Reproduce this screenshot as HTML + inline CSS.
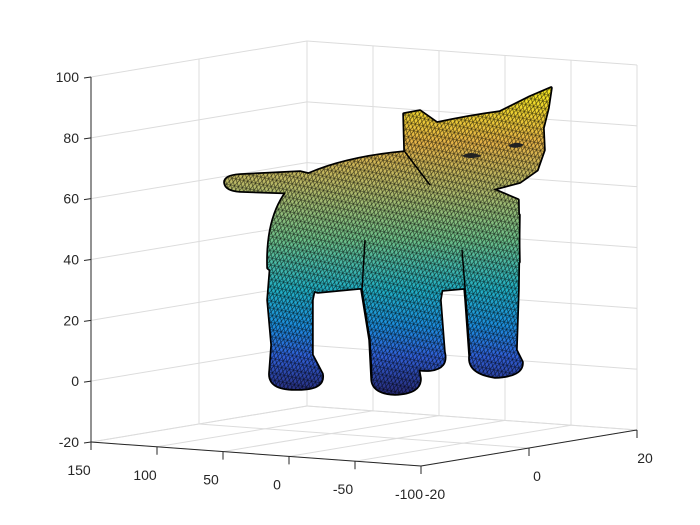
<!DOCTYPE html>
<html><head><meta charset="utf-8"><style>
html,body{margin:0;padding:0;background:#fff;}
svg{display:block;font-family:"Liberation Sans",Arial,sans-serif;}
</style></head><body>
<svg id="chart" width="700" height="525" viewBox="0 0 700 525">
<defs>
<linearGradient id="parula" gradientUnits="userSpaceOnUse" x1="0" y1="88" x2="0" y2="393">
<stop offset="0" stop-color="#f6ea20"/>
<stop offset="0.18" stop-color="#e6b448"/>
<stop offset="0.33" stop-color="#b4ba6a"/>
<stop offset="0.5" stop-color="#6cc08a"/>
<stop offset="0.66" stop-color="#22b0c4"/>
<stop offset="0.78" stop-color="#1c8ede"/>
<stop offset="0.88" stop-color="#3060d8"/>
<stop offset="1" stop-color="#282c7a"/>
</linearGradient>
<pattern id="mesh" width="8" height="7" patternUnits="userSpaceOnUse" patternTransform="rotate(12)">
<path d="M0,0 L8,0 M0,7 L8,7 M0,0 L4,7 L8,0 M0,7 L4,0 L8,7" stroke="#000" stroke-width="0.6" fill="none" opacity="0.75"/>
</pattern>
<mask id="catMask" maskUnits="userSpaceOnUse" x="0" y="0" width="700" height="525"></mask>
</defs>
<g id="grid"></g>
<g id="cat"></g>
<g id="axes"></g>
</svg>
<script>
const zTicks=[-20,0,20,40,60,80,100];
const xTicks=[150,100,50,0,-50,-100];
const yTicks=[-20,0,20];
const NS="http://www.w3.org/2000/svg";
function P(x,y,z){
  const t=(150-x)/250, s=(y+20)/40, h=(z+20)/120;
  return [91+330*t+216*s, 442+24*t-36*s-365*h];
}
function line(g,a,b,stroke,w,name){
  const l=document.createElementNS(NS,"line");
  l.setAttribute("x1",a[0]);l.setAttribute("y1",a[1]);l.setAttribute("x2",b[0]);l.setAttribute("y2",b[1]);
  l.setAttribute("stroke",stroke);l.setAttribute("stroke-width",w);
  
  
  g.appendChild(l);return l;
}
function text(g,x,y,s,anchor,name){
  const t=document.createElementNS(NS,"text");
  t.setAttribute("x",x);t.setAttribute("y",y);t.setAttribute("font-size","14");t.setAttribute("fill","#262626");
  t.setAttribute("text-anchor",anchor);t.textContent=s;
  
  
  g.appendChild(t);
}
const grid=document.getElementById("grid"), axes=document.getElementById("axes");
const GC="#dcdcdc";
const x0=150,x1=-100,y0=-20,y1=20,z0=-20,z1=100;
zTicks.forEach(z=>{
  line(grid,P(x0,y0,z),P(x0,y1,z),GC,1,"z-grid-left");
  line(grid,P(x0,y1,z),P(x1,y1,z),GC,1,"z-grid-back");
});
xTicks.forEach(x=>{
  line(grid,P(x,y0,z0),P(x,y1,z0),GC,1,"x-grid-floor");
  line(grid,P(x,y1,z0),P(x,y1,z1),GC,1,"x-grid-back");
});
yTicks.forEach(y=>{
  line(grid,P(x0,y,z0),P(x1,y,z0),GC,1,"y-grid-floor");
  line(grid,P(x0,y,z0),P(x0,y,z1),GC,1,"y-grid-left");
});
const AC="#262626";
line(axes,P(x0,y0,z0),P(x0,y0,z1),AC,1,"z-axis-line");
line(axes,P(x0,y0,z0),P(x1,y0,z0),AC,1,"x-axis-line");
line(axes,P(x1,y0,z0),P(x1,y1,z0),AC,1,"y-axis-line");
zTicks.forEach(z=>{const p=P(x0,y0,z);line(axes,p,[p[0]-7,p[1]+1],AC,1,"z-tick");text(axes,p[0]-12,p[1]+5,String(z),"end","z-tick-label");});
xTicks.forEach(x=>{const p=P(x,y0,z0);line(axes,p,[p[0],p[1]+8],AC,1,"x-tick");text(axes,p[0]-12,p[1]+33,String(x),"middle","x-tick-label");});
yTicks.forEach(y=>{const p=P(x1,y,z0);line(axes,p,[p[0],p[1]+8],AC,1,"y-tick");text(axes,p[0]+(y===-20?14:8),p[1]+33,String(y),"middle","y-tick-label");});
const catParts=[
 ["tail","M225,183 Q224,176 240,175 L300,172 L325,178 L320,195 L300,193 L240,191 Q226,190 225,183 Z"],
 ["far-hind-leg","M272,250 L268,300 L272,345 L270,372 Q268,389 295,389 Q325,390 322,374 L312,355 L312,300 L318,270 Z"],
 ["far-front-leg","M410,270 L412,350 L408,362 Q412,371 430,370 Q448,368 444,352 L440,300 L445,270 Z"],
 ["body","M268,268 Q266,205 300,178 Q340,158 405,152 L518,200 L519,262 L465,288 L420,292 L360,288 L318,292 L290,285 Z"],
 ["near-hind-leg","M368,220 L362,290 L370,340 L372,378 Q372,393 395,394 Q421,393 420,378 L415,350 L418,300 L435,230 Z"],
 ["near-front-leg","M460,230 L466,300 L470,356 Q468,373 495,377 Q523,376 522,362 L516,350 L518,290 L519,215 Z"],
 ["head","M405,152 L404,114 L420,111 L437,123 Q470,116 500,112 L530,97 L551,88 L548,108 L543,128 L544,150 L537,170 L520,182 L490,190 L430,185 Z"]
];
const cat=document.getElementById("cat");
const mask=document.getElementById("catMask");
catParts.forEach(([n,d])=>{
  const o=document.createElementNS(NS,"path");o.setAttribute("d",d);o.setAttribute("fill","#000");
  o.setAttribute("stroke","#000");o.setAttribute("stroke-width","3.5");o.setAttribute("stroke-linejoin","round");
  
  
  cat.appendChild(o);
  const m=document.createElementNS(NS,"path");m.setAttribute("d",d);m.setAttribute("fill","#fff");
  
  
  mask.appendChild(m);
});
catParts.forEach(([n,d])=>{
  const a=document.createElementNS(NS,"path");a.setAttribute("d",d);a.setAttribute("fill","url(#parula)");
  
  
  cat.appendChild(a);
});
const meshRect=document.createElementNS(NS,"rect");
meshRect.setAttribute("x","0");meshRect.setAttribute("y","0");meshRect.setAttribute("width","700");meshRect.setAttribute("height","525");
meshRect.setAttribute("fill","url(#mesh)");meshRect.setAttribute("mask","url(#catMask)");


cat.appendChild(meshRect);
[["hind-leg-seam","M365,240 L362,290 L370,340 L372,378"],["front-leg-seam","M462,250 L466,300 L470,356"],["neck-seam","M430,185 L405,152"]].forEach(([n,d])=>{
  const s=document.createElementNS(NS,"path");s.setAttribute("d",d);s.setAttribute("fill","none");
  s.setAttribute("stroke","#000");s.setAttribute("stroke-width","1.5");
  
  
  cat.appendChild(s);
});
[["left-eye","M462,156 Q470,150 482,156 Q470,160 462,156 Z"],["right-eye","M508,146 Q516,140 524,145 Q516,150 508,146 Z"]].forEach(([n,d])=>{
  const e=document.createElementNS(NS,"path");e.setAttribute("d",d);e.setAttribute("fill","#222");
  
  
  cat.appendChild(e);
});
</script>
</body></html>
